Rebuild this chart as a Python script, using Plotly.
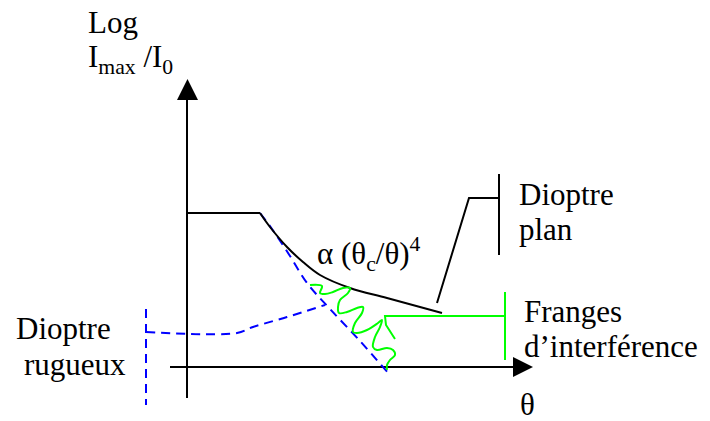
import plotly.graph_objects as go

# Schematic coordinates: theta (horizontal) and log(Imax/I0) (vertical), arbitrary units
# axes
yaxis_theta = [0, 0]
yaxis_logI = [-31, 268]
xaxis_theta = [-17, 327]
xaxis_logI = [0, 0]
yarrow_theta = [-10, 11, 0.5, -10]
yarrow_logI = [267, 267, 288, 267]
xarrow_theta = [326, 326, 346, 326]
xarrow_logI = [10, -10, 0, 10]

# plateau + alpha (theta_c/theta)^4 decay (dioptre plan)
plateau_theta = [0, 73]
plateau_logI = [154, 154]
power_theta = [73, 83, 100, 116, 133, 163, 200, 255]
power_logI = [154, 140, 120, 105, 92, 79, 69, 54]

# rough interface (dioptre rugueux), blue dashed
rough_theta = [73, 85, 103, 120, 143, 173, 202]
rough_logI = [154, 138, 111, 84, 58, 26, -7]
rough_leader_theta = [-41, 50, 66, 100, 138]
rough_leader_logI = [35, 34, 40, 50, 62]
rough_bracket_theta = [-41, -41]
rough_bracket_logI = [58, -38]

# interference fringes, green
fringe_theta = [123, 135, 133, 138, 146, 156, 163, 161, 153, 151, 152, 160, 170, 176,
                175, 168, 166, 170, 180, 191, 195, 193, 188, 186, 190, 200, 206, 208,
                203, 200, 200]
fringe_logI = [82, 81, 74, 73, 75, 79, 79, 74, 67, 60, 54, 55, 59, 60,
               54, 44, 35, 34, 37, 44, 47, 40, 30, 20, 17, 19, 17, 12,
               7, 2, -3]
fringe_leader_theta = [208, 199, 198, 318]
fringe_leader_logI = [28, 42, 51, 51]
fringe_bracket_theta = [318, 318]
fringe_bracket_logI = [75, 7]

# dioptre plan leader
plan_leader_theta = [250, 282, 312]
plan_leader_logI = [64, 169, 169]
plan_bracket_theta = [312, 312]
plan_bracket_logI = [193, 112]

BLACK = "#000000"
BLUE = "#0000FF"
GREEN = "#00FF00"
FONT = "Times New Roman"

fig = go.Figure()


def line(xs, ys, color, width=2, dash="solid", shape="linear"):
    fig.add_trace(go.Scatter(x=xs, y=ys, mode="lines",
                             line=dict(color=color, width=width, dash=dash, shape=shape),
                             hoverinfo="skip"))


def tri(xs, ys):
    fig.add_trace(go.Scatter(x=xs, y=ys, mode="lines", fill="toself",
                             fillcolor=BLACK, line=dict(color=BLACK, width=0),
                             hoverinfo="skip"))


line(yaxis_theta, yaxis_logI, BLACK)
line(xaxis_theta, xaxis_logI, BLACK)
tri(yarrow_theta, yarrow_logI)
tri(xarrow_theta, xarrow_logI)

line(rough_theta, rough_logI, BLUE, dash="9px,6px", shape="spline")
line(rough_leader_theta, rough_leader_logI, BLUE, dash="9px,6px", shape="spline")
line(rough_bracket_theta, rough_bracket_logI, BLUE, dash="9px,6px")

line(plateau_theta, plateau_logI, BLACK)
line(power_theta, power_logI, BLACK, shape="spline")
line(plan_leader_theta, plan_leader_logI, BLACK)
line(plan_bracket_theta, plan_bracket_logI, BLACK)

line(fringe_theta, fringe_logI, GREEN, shape="spline")
line(fringe_leader_theta, fringe_leader_logI, GREEN)
line(fringe_bracket_theta, fringe_bracket_logI, GREEN)

labels = [
    ("Log", -101, 334),
    ("I<sub>max</sub> /I<sub>0</sub>", -101, 297),
    ("α (θ<sub>c</sub>/θ)<sup>4</sup>", 128, 102),
    ("Dioptre", 330, 162),
    ("plan", 330, 127),
    ("Franges", 335, 45),
    ("d’interférence", 335, 10),
    ("Dioptre", -173, 28),
    ("rugueux", -165, -8),
    ("θ", 331, -48),
]
for text, x, baseline in labels:
    fig.add_annotation(x=x, y=baseline + 11, xref="x", yref="y", text=text,
                       showarrow=False, xanchor="left", yanchor="middle",
                       font=dict(family=FONT, size=31, color=BLACK))

fig.update_layout(
    width=710, height=421,
    margin=dict(l=0, r=0, t=0, b=0),
    paper_bgcolor="white", plot_bgcolor="white",
    showlegend=False,
    xaxis=dict(range=[-187, 523], visible=False, fixedrange=True),
    yaxis=dict(range=[-54, 367], visible=False, fixedrange=True),
)

fig.write_html("out.html", config={"displayModeBar": False},
               post_script="document.body.style.margin='0';document.body.style.overflow='hidden';")
